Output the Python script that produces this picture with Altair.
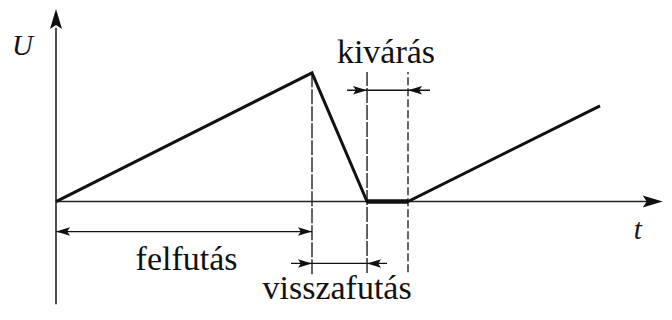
import altair as alt
import pandas as pd

# ---- data (t in arbitrary time units, U normalised to the ramp peak) ----
sig_t = [0.0, 10.0, 12.15, 13.75, 21.25]
sig_u = [0.0, 1.0, 0.0, 0.0, 0.744]

# flat "waiting" segment (drawn thicker)
wait_t = [12.15, 13.75]

# phase boundaries (dashed)
phase_t = [10.0, 12.15, 13.75]
phase_top = [1.0, 1.0075, 1.0075]
phase_bottom = [-0.564, -0.556, -0.549]
phase_dash = [[15, 2], [15, 2], [8, 3]]

# dimension lines
dim_u = [-0.233, -0.481, 0.865]
dim_start = [0.0, 9.18, 11.37]
dim_end = [10.0, 12.93, 14.61]

# dimension arrow tips
tip_t = [0.0, 10.0, 10.0, 12.15, 12.15, 13.75]
tip_u = [-0.233, -0.233, -0.481, -0.481, 0.865, 0.865]
tip_angle = [270, 90, 90, 270, 90, 270]

# axes
axis_x_end = 23.1
axis_y_start = -0.797
axis_y_end = 1.35
axis_tip_t = [0.0, 23.7]
axis_tip_u = [1.496, 0.0]
axis_tip_angle = [0, 90]

# labels
label_text = ["felfutás", "visszafutás", "kivárás"]
label_t = [5.1, 10.98, 12.89]
label_u = [-0.534, -0.76, 1.075]

var_text = ["U", "t"]
var_t = [-1.31, 22.73]
var_u = [1.135, -0.293]

xs = alt.Scale(domain=[-1.875, 23.75], nice=False, zero=False)
ys = alt.Scale(domain=[-0.827, 1.504], nice=False, zero=False)

def X(f="t"):
    return alt.X(f"{f}:Q", scale=xs, axis=None)

def Y(f="u"):
    return alt.Y(f"{f}:Q", scale=ys, axis=None)

ARROW = "M0,0 L0.6,2 L0,1.6 L-0.6,2 Z"
INK = "#111111"
SERIF = "Liberation Serif"

signal_df = pd.DataFrame({"t": sig_t, "u": sig_u, "o": list(range(len(sig_t)))})
signal = alt.Chart(signal_df).mark_line(color=INK, strokeWidth=3, strokeJoin="miter").encode(
    x=X(), y=Y(), order="o:Q"
)

wait_df = pd.DataFrame({"t": [wait_t[0]], "t2": [wait_t[1]], "u": [0.0]})
wait = alt.Chart(wait_df).mark_rule(color=INK, strokeWidth=4.5).encode(
    x=X(), x2="t2:Q", y=Y()
)

ax_df = pd.DataFrame({"t": [0.0], "t2": [axis_x_end], "u": [0.0]})
x_axis = alt.Chart(ax_df).mark_rule(color="#222222", strokeWidth=1.6).encode(
    x=X(), x2="t2:Q", y=Y()
)
ay_df = pd.DataFrame({"t": [0.0], "u": [axis_y_start], "u2": [axis_y_end]})
y_axis = alt.Chart(ay_df).mark_rule(color="#222222", strokeWidth=1.6).encode(
    x=X(), y=Y(), y2="u2:Q"
)

atip_df = pd.DataFrame({"t": axis_tip_t, "u": axis_tip_u, "a": axis_tip_angle})
axis_tips = alt.Chart(atip_df).mark_point(
    shape=ARROW, filled=True, fill=INK, strokeWidth=0, opacity=1, size=400
).encode(x=X(), y=Y(), angle=alt.Angle("a:Q", scale=None))

phase_layers = []
for i in range(len(phase_t)):
    d = pd.DataFrame({"t": [phase_t[i]], "u": [phase_bottom[i]], "u2": [phase_top[i]]})
    phase_layers.append(alt.Chart(d).mark_rule(
        color=INK, strokeWidth=1.3, strokeDash=phase_dash[i]
    ).encode(x=X(), y=Y(), y2="u2:Q"))

dim_df = pd.DataFrame({"t": dim_start, "t2": dim_end, "u": dim_u})
dims = alt.Chart(dim_df).mark_rule(color=INK, strokeWidth=1.3).encode(
    x=X(), x2="t2:Q", y=Y()
)

tip_df = pd.DataFrame({"t": tip_t, "u": tip_u, "a": tip_angle})
tips = alt.Chart(tip_df).mark_point(
    shape=ARROW, filled=True, fill=INK, strokeWidth=0, opacity=1, size=196
).encode(x=X(), y=Y(), angle=alt.Angle("a:Q", scale=None))

lab_df = pd.DataFrame({"t": label_t, "u": label_u, "txt": label_text})
labels = alt.Chart(lab_df).mark_text(
    font=SERIF, fontSize=34, color=INK, align="center", baseline="alphabetic"
).encode(x=X(), y=Y(), text="txt:N")

var_df = pd.DataFrame({"t": var_t, "u": var_u, "txt": var_text})
var_labels = alt.Chart(var_df).mark_text(
    font=SERIF, fontSize=29, fontStyle="italic", color=INK,
    align="center", baseline="alphabetic"
).encode(x=X(), y=Y(), text="txt:N")

chart = alt.layer(
    *phase_layers, dims, tips, x_axis, y_axis, axis_tips, signal, wait, labels, var_labels
).properties(
    width=656, height=300, padding=0, autosize=alt.AutoSizeParams(type="none"),
    background="white"
).configure_view(stroke=None)

chart.save("out.html", embed_options={"renderer": "svg", "actions": False})
